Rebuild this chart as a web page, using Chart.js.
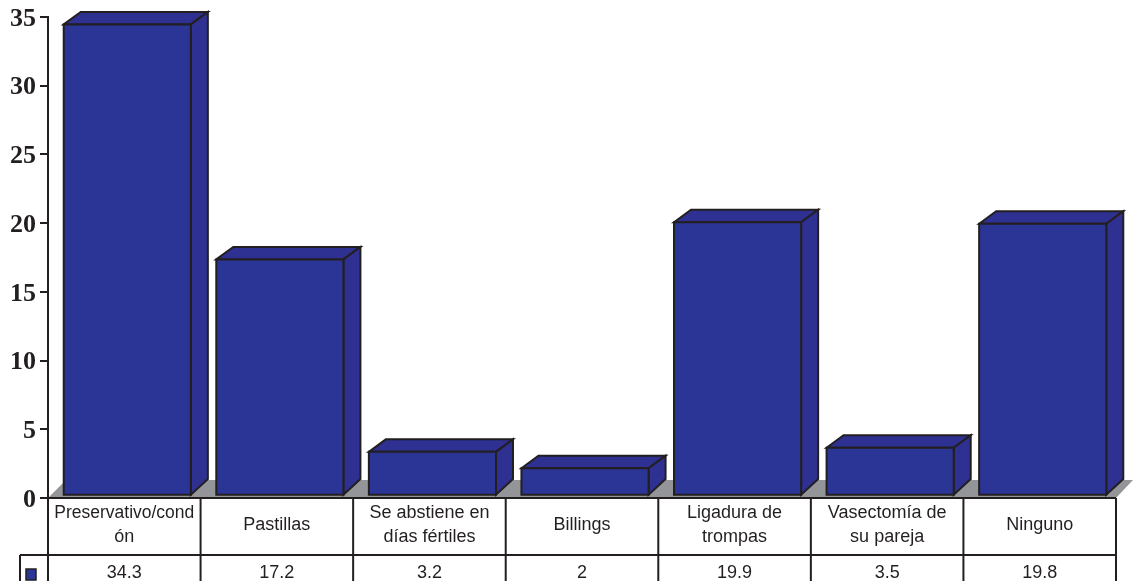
<!DOCTYPE html>
<html>
<head>
<meta charset="utf-8">
<style>
  html, body { margin: 0; padding: 0; background: #fff; overflow: hidden; }
  #wrap { width: 1133px; height: 581px; }
</style>
<script src="https://cdn.jsdelivr.net/npm/chart.js@4"></script>
</head>
<body>
<div id="wrap"><canvas id="c" width="1133" height="581"></canvas></div>
<script>
const categories = [
  ['Preservativo/cond', 'ón'],
  ['Pastillas'],
  ['Se abstiene en', 'días fértiles'],
  ['Billings'],
  ['Ligadura de', 'trompas'],
  ['Vasectomía de', 'su pareja'],
  ['Ninguno']
];
const values = [34.3, 17.2, 3.2, 2, 19.9, 3.5, 19.8];
const valueLabels = ['34.3', '17.2', '3.2', '2', '19.9', '3.5', '19.8'];

const INK = '#231f20';
const FRONT = '#2b3595';
const SIDE = '#2e3192';
const FLOOR = '#939598';
const DX = 17, DY_TOP = 12.5, DY_BASE = 15.7;   // depth of the 3d effect
const FLOOR_BACK = 480;
const ROW1 = 555;               // line between category row and value row

function poly(ctx, pts, fill, stroke, w) {
  ctx.beginPath();
  pts.forEach((p, i) => i ? ctx.lineTo(p[0], p[1]) : ctx.moveTo(p[0], p[1]));
  ctx.closePath();
  if (fill) { ctx.fillStyle = fill; ctx.fill(); }
  if (stroke) { ctx.strokeStyle = stroke; ctx.lineWidth = w; ctx.lineJoin = 'miter'; ctx.stroke(); }
}

function line(ctx, x1, y1, x2, y2) {
  ctx.beginPath();
  ctx.moveTo(x1, y1);
  ctx.lineTo(x2, y2);
  ctx.stroke();
}

const floorPlugin = {
  id: 'floor',
  beforeDatasetsDraw(chart) {
    const { ctx, chartArea: a } = chart;
    poly(ctx, [[a.left, a.bottom], [a.left + 18, FLOOR_BACK], [1133, FLOOR_BACK], [a.right, a.bottom]], FLOOR);
  }
};

// shifts the bars a little off the axis and adds the top and side faces
const depthPlugin = {
  id: 'depth',
  beforeDatasetDraw(chart) {
    const ctx = chart.ctx;
    ctx.save();
    ctx.translate(3, -2.2);
    chart.getDatasetMeta(0).data.forEach(bar => {
      const l = bar.x - bar.width / 2, r = bar.x + bar.width / 2;
      const t = bar.y, b = bar.base;
      poly(ctx, [[l, t], [l + DX, t - DY_TOP], [r + DX, t - DY_TOP], [r, t]], SIDE, INK, 2);
      poly(ctx, [[r, t], [r + DX, t - DY_TOP], [r + DX, b - DY_BASE], [r, b]], SIDE, INK, 2);
    });
  },
  afterDatasetDraw(chart) {
    const ctx = chart.ctx;
    chart.getDatasetMeta(0).data.forEach(bar => {
      const l = bar.x - bar.width / 2, r = bar.x + bar.width / 2;
      poly(ctx, [[l, bar.y], [r, bar.y], [r, bar.base], [l, bar.base]], null, INK, 2);
    });
    ctx.restore();
  }
};

const tablePlugin = {
  id: 'table',
  afterDraw(chart) {
    const { ctx, chartArea: a, scales } = chart;
    const x = scales.x;
    const step = (a.right - a.left) / categories.length;
    const H = chart.height;
    ctx.save();
    ctx.strokeStyle = INK;
    ctx.lineWidth = 2;
    line(ctx, a.left, a.bottom, a.right, a.bottom);
    line(ctx, 20, ROW1, a.right, ROW1);
    line(ctx, 20, ROW1, 20, H);
    for (let i = 0; i <= categories.length; i++) {
      const px = a.left + step * i;
      line(ctx, px, a.bottom, px, H);
    }
    ctx.fillStyle = INK;
    ctx.font = '18px "Liberation Sans"';
    ctx.textAlign = 'center';
    ctx.textBaseline = 'middle';
    categories.forEach((lines, i) => {
      const cx = x.getPixelForValue(i);
      if (lines.length === 2) {
        ctx.fillText(lines[0], cx, 513.5, 140);
        ctx.fillText(lines[1], cx, 537.5, 140);
      } else {
        ctx.fillText(lines[0], cx, 525);
      }
      ctx.fillText(valueLabels[i], cx, 573);
    });
    // legend key
    ctx.fillStyle = FRONT;
    ctx.fillRect(26, 569, 10, 11);
    ctx.lineWidth = 1.5;
    ctx.strokeRect(26, 569, 10, 11);
    ctx.restore();
  }
};

new Chart(document.getElementById('c'), {
  type: 'bar',
  data: {
    labels: categories,
    datasets: [{
      data: values,
      backgroundColor: FRONT,
      borderWidth: 0,
      categoryPercentage: 1,
      barPercentage: 0.8333
    }]
  },
  options: {
    responsive: false,
    animation: false,
    layout: { padding: { top: 17, right: 17, bottom: 83, left: 0 } },
    plugins: { legend: { display: false }, tooltip: { enabled: false } },
    scales: {
      x: { display: false },
      y: {
        min: 0,
        max: 35,
        afterFit(scale) { scale.width = 48; },
        border: { color: INK, width: 2 },
        grid: { drawOnChartArea: false, color: INK, lineWidth: 2, tickLength: 8 },
        ticks: {
          stepSize: 5,
          padding: 4,
          labelOffset: 2,
          color: INK,
          font: { family: '"Liberation Serif"', size: 26, weight: 'bold', lineHeight: 1 }
        }
      }
    }
  },
  plugins: [floorPlugin, depthPlugin, tablePlugin]
});
</script>
</body>
</html>
